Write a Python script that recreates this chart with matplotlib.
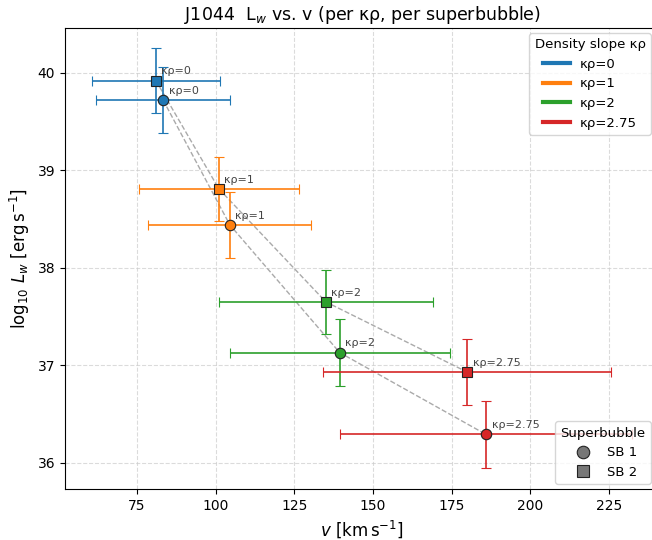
import matplotlib
matplotlib.use("Agg")
import matplotlib.pyplot as plt
from matplotlib.lines import Line2D

# Wind velocity and mechanical luminosity per density slope, per superbubble
kappa_labels = ["κρ=0", "κρ=1", "κρ=2", "κρ=2.75"]
colors = ["#1f77b4", "#ff7f0e", "#2ca02c", "#d62728"]

sb1_v = [83.3, 104.5, 139.4, 185.9]
sb1_v_err = [21.3, 25.9, 35.0, 46.4]
sb1_logL = [39.72, 38.44, 37.13, 36.29]
sb1_logL_err = [0.34, 0.34, 0.34, 0.34]

sb2_v = [81.0, 101.0, 135.0, 179.9]
sb2_v_err = [20.4, 25.5, 34.0, 45.8]
sb2_logL = [39.92, 38.81, 37.65, 36.93]
sb2_logL_err = [0.33, 0.33, 0.33, 0.34]

sb_names = ["SB 1", "SB 2"]
sb_markers = ["o", "s"]

fig = plt.figure(figsize=(6.52, 5.40), dpi=100)
ax = fig.add_axes([65 / 652, 51 / 540, (659 - 65) / 652, (512 - 51) / 540])

# connecting tracks for each superbubble
for v, L in [(sb1_v, sb1_logL), (sb2_v, sb2_logL)]:
    ax.plot(v, L, ls="--", color="#aaaaaa", lw=1.0, zorder=1)

for v, ve, L, Le, mk in [(sb1_v, sb1_v_err, sb1_logL, sb1_logL_err, "o"),
                         (sb2_v, sb2_v_err, sb2_logL, sb2_logL_err, "s")]:
    for i in range(len(v)):
        ax.errorbar(v[i], L[i], xerr=ve[i], yerr=Le[i], fmt=mk, color=colors[i],
                    ms=7.5 if mk == "o" else 7, mec="#222222", mew=0.8,
                    elinewidth=1.2, capsize=3.5, capthick=1.2, zorder=3)
        ax.annotate(kappa_labels[i], (v[i], L[i]), xytext=(4, 3),
                    textcoords="offset points", fontsize=8, color="#444444",
                    ha="left", va="bottom", zorder=4)

ax.set_xlim(52.1, 240.9)
ax.set_ylim(35.73, 40.46)
ax.set_xticks([75, 100, 125, 150, 175, 200, 225])
ax.set_yticks([36, 37, 38, 39, 40])
ax.grid(True, ls="--", color="#cccccc", alpha=0.7, lw=0.8)
ax.set_axisbelow(True)

ax.set_xlabel(r"$v$ [km$\,$s$^{-1}$]", fontsize=12)
ax.set_ylabel(r"log$_{10}$ $L_w$ [erg$\,$s$^{-1}$]", fontsize=12)
ax.set_title(r"J1044  L$_w$ vs. v (per κρ, per superbubble)", fontsize=12.5)

kappa_handles = [Line2D([], [], color=c, lw=3) for c in colors]
leg1 = ax.legend(kappa_handles, kappa_labels, title="Density slope κρ",
                 loc="upper right", fontsize=9.5, title_fontsize=9.5,
                 bbox_to_anchor=(651 / 652, 1 - 33 / 540),
                 bbox_transform=fig.transFigure, borderaxespad=0)
ax.add_artist(leg1)

sb_handles = [Line2D([], [], ls="", marker=m, ms=9, color="#777777", mec="#222222", mew=0.8)
              for m in sb_markers]
ax.legend(sb_handles, sb_names, title="Superbubble", loc="lower right",
          fontsize=9.5, title_fontsize=9.5,
          bbox_to_anchor=(651 / 652, 1 - 484 / 540),
          bbox_transform=fig.transFigure, borderaxespad=0)

fig.savefig("out.png", dpi=100)
